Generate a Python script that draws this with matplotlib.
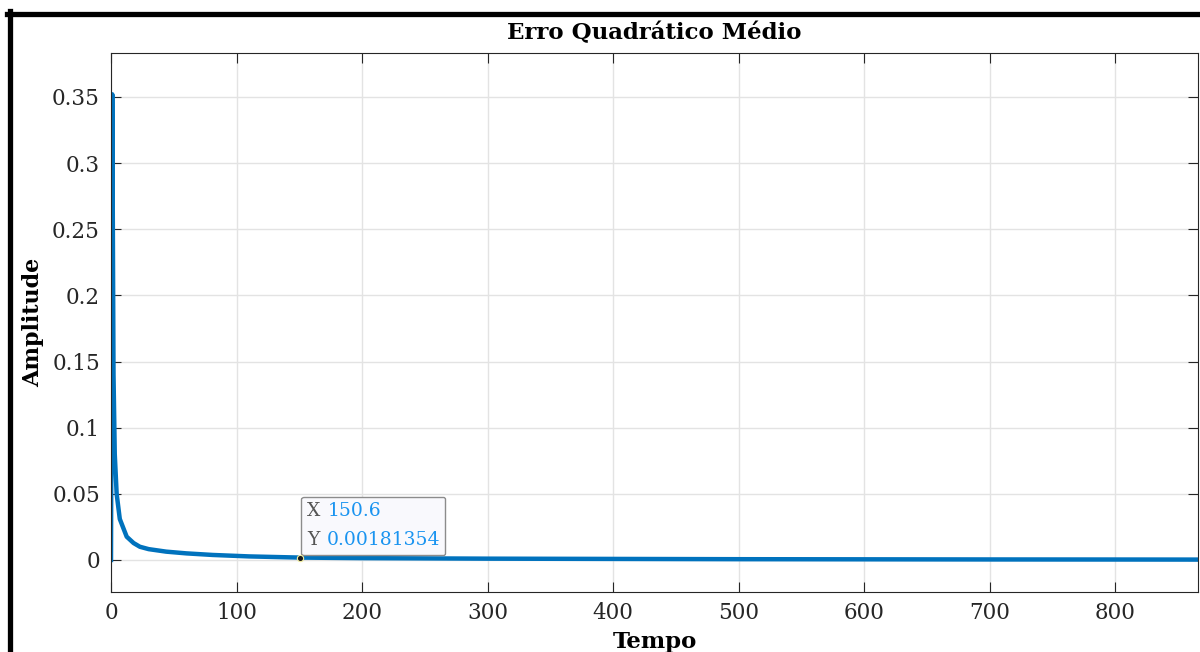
import matplotlib
matplotlib.use('Agg')
import matplotlib.pyplot as plt
from matplotlib.lines import Line2D
from matplotlib.offsetbox import TextArea, HPacker, VPacker, AnnotationBbox

# Curva do erro quadrático médio ao longo do tempo
tempo = [0, 1, 2, 3, 4.5, 7, 12.5, 18, 23, 30, 44, 60, 81, 110, 150.6,
         200, 300, 400, 500, 600, 700, 800, 866]
erro = [0, 0.352, 0.14, 0.08, 0.05, 0.031, 0.0176, 0.0128, 0.010, 0.0082,
        0.0063, 0.0050, 0.0038, 0.0027, 0.00181354, 0.0014, 0.0010, 0.0008,
        0.0006, 0.0005, 0.0004, 0.00035, 0.0003]

# Ponto marcado (data tip)
tip_x = 150.6
tip_y = 0.00181354

xticks = [0, 100, 200, 300, 400, 500, 600, 700, 800]
yticks = [0, 0.05, 0.1, 0.15, 0.2, 0.25, 0.3, 0.35]
ytick_labels = ['0', '0.05', '0.1', '0.15', '0.2', '0.25', '0.3', '0.35']

plt.rcParams['font.family'] = ['DejaVu Serif']

fig = plt.figure(figsize=(12, 6.52), dpi=100)
ax = fig.add_axes([111 / 1200, 60 / 652, 1087 / 1200, 539 / 652])

ax.plot(tempo, erro, color='#0072BD', linewidth=3.2, solid_joinstyle='round')

ax.set_xlim(0, 866)
ax.set_ylim(-0.0242, 0.3832)
ax.set_xticks(xticks)
ax.set_yticks(yticks)
ax.set_yticklabels(ytick_labels)

ax.grid(True, color='#e3e3e3', linewidth=1.0)
ax.set_axisbelow(True)
ax.tick_params(direction='in', length=7, width=0.8, colors='#262626',
               labelsize=15.5, top=True, right=True)
ax.tick_params(axis='y', pad=8)
ax.tick_params(axis='x', pad=7)
for s in ax.spines.values():
    s.set_color('#262626')
    s.set_linewidth(0.8)

ax.set_title('Erro Quadrático Médio', fontsize=16.5, fontweight='bold', pad=10)
ax.set_ylabel('Amplitude', fontsize=16, fontweight='bold', labelpad=6)
ax.set_xlabel('Tempo', fontsize=16.5, fontweight='bold', labelpad=5)

# Caixa do data tip com rótulo cinza e valor azul
def linha(rotulo, valor):
    a = TextArea(rotulo, textprops=dict(color='#555555', fontsize=13.5))
    b = TextArea(valor, textprops=dict(color='#1a94f0', fontsize=13.5))
    return HPacker(children=[a, b], align='baseline', pad=0, sep=5)

caixa = VPacker(children=[linha('X', '150.6'), linha('Y', '0.00181354')],
                align='left', pad=0, sep=8)
ab = AnnotationBbox(caixa, (tip_x, tip_y), xycoords='data',
                    xybox=(5, 6), boxcoords='offset points',
                    box_alignment=(0, 0), pad=0.4, frameon=True,
                    bboxprops=dict(boxstyle='round,pad=0.4,rounding_size=0.15',
                                   fc='#f9f9fd', ec='#8c8c8c', lw=1.0))
ax.add_artist(ab)
ax.plot([tip_x], [tip_y], 'o', ms=4.5, mfc='#1a1a1a', mec='#f5f0a0',
        mew=0.8, zorder=5)

# Moldura preta em cima e à esquerda
fig.add_artist(Line2D([7 / 1200, 1], [1 - 13.5 / 652, 1 - 13.5 / 652],
                      color='black', linewidth=3.8, transform=fig.transFigure))
fig.add_artist(Line2D([9.5 / 1200, 9.5 / 1200], [0, 1 - 11 / 652],
                      color='black', linewidth=3.8, transform=fig.transFigure))

fig.savefig('out.png', dpi=100)
